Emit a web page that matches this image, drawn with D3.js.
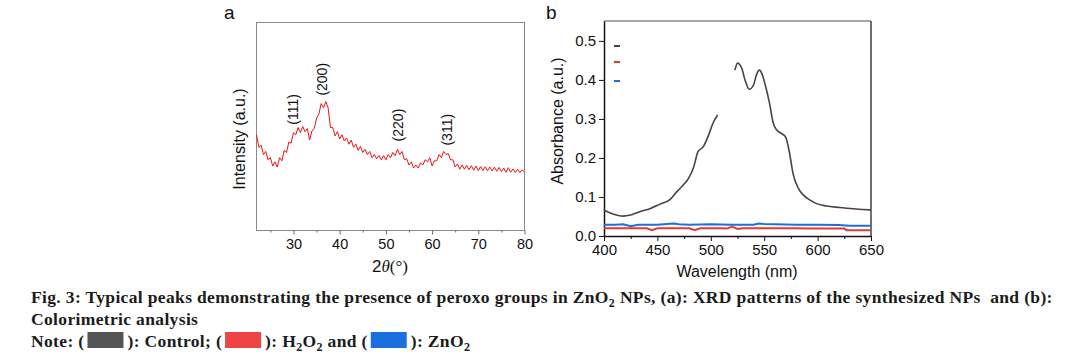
<!DOCTYPE html>
<html>
<head>
<meta charset="utf-8">
<script src="https://cdn.jsdelivr.net/npm/d3@7"></script>
<style>
  body { margin: 0; background: #fff; }
  svg { display: block; }
</style>
</head>
<body>
<svg id="fig" width="1087" height="362"></svg>
<script>
// --- panel a: XRD pattern (arbitrary intensity units)
var xrdAngle = [22,22.5,23,23.5,24,24.5,25,25.5,26,26.5,27,27.5,28,28.5,29,29.5,30,30.5,31,31.5,
  32,32.5,33,33.5,34,34.5,35,35.5,36,36.5,37,37.5,38,38.5,39,39.5,40,40.5,41,41.5,
  42,42.5,43,43.5,44,44.5,45,45.5,46,46.5,47,47.5,48,48.5,49,49.5,50,50.5,51,51.5,
  52,52.5,53,53.5,54,54.5,55,55.5,56,56.5,57,57.5,58,58.5,59,59.5,60,60.5,61,61.5,
  62,62.5,63,63.5,64,64.5,65,65.5,66,66.5,67,67.5,68,68.5,69,69.5,70,70.5,71,71.5,
  72,72.5,73,73.5,74,74.5,75,75.5,76,76.5,77,77.5,78,78.5,79,79.5,80];
var xrdIntensity = [46,40,41,36.5,38,34,35,31,33,30.5,35,33.5,38.5,37.5,42.5,42,47,46,49.5,47,
  50,47.5,49,43.5,48,49,54,56,61,59,62,59,49.5,49.5,45.5,47.5,44,46,43,44.5,
  41.5,43.5,40,41.5,38.5,40.5,37.5,39,36.5,38,35,36.5,34.5,36,34,36,34,36.5,35,37.5,
  36,39,36.5,38,34,34.5,31.5,33,30,31.5,30,32.5,31.5,34,33,35,31,33.5,33.5,36.5,
  35,38,36.5,37,34,34,30.5,32,29.5,31.5,29.5,31.3,29.2,31.2,29,31,28.8,30.7,28.8,30.6,
  28.7,30.5,28.6,30.4,28.5,30.3,28.3,30,28,30.2,28,29.6,27.9,29.4,27.8,29.2,28];
var xrdTicks = [30, 40, 50, 60, 70, 80];
var peakHkl = ['(111)', '(200)', '(220)', '(311)'];
var peakAngle = [30.0, 36.1, 52.7, 63.3];

// --- panel b: colorimetric spectra
var controlWl  = [400,409,418,424,434,443,452,462,468,474,479,484,488,493,498,502,506.4,514,
  522.6,525,529,532,536,540,543,545.5,548,551,555,558.5,562,566,570,573.5,577,582,587,593,599,608,621,636,650];
var controlAbs = [0.066,0.056,0.051,0.053,0.063,0.070,0.081,0.094,0.113,0.130,0.147,0.177,0.216,0.229,0.259,0.289,0.310,null,
  0.425,0.443,0.430,0.400,0.376,0.387,0.415,0.425,0.415,0.387,0.340,0.289,0.271,0.263,0.254,0.216,0.160,0.122,0.104,0.092,0.083,0.077,0.073,0.069,0.067];
var h2o2Wl  = [400,440,445,450,480,485,490,510,515,520,525,530,580,590,600,625,627,650];
var h2o2Abs = [0.020,0.020,0.015,0.020,0.020,0.015,0.020,0.020,0.019,0.024,0.018,0.020,0.020,0.019,0.019,0.019,0.015,0.015];
var zno2Wl  = [400,410,418,425,432,450,465,470,480,500,520,540,545,550,560,580,600,620,630,650];
var zno2Abs = [0.029,0.029,0.030,0.025,0.029,0.029,0.032,0.030,0.029,0.030,0.029,0.029,0.032,0.031,0.030,0.029,0.029,0.028,0.026,0.026];
var uvXTicks = [400, 450, 500, 550, 600, 650];
var uvYTicks = [0, 0.1, 0.2, 0.3, 0.4, 0.5];
var seriesNames  = ['Control', 'H2O2', 'ZnO2'];
var seriesColors = ['#444444', '#e53935', '#1e6fdc'];
var swatchColors = ['#555555', '#ef4444', '#1a6fdf'];

var svg = d3.select('#fig');
var sans = 'Liberation Sans, Arial, sans-serif';

// ================= panel a =================
var xA = d3.scaleLinear().domain([22, 80]).range([256.5, 524.5]);
var yA = d3.scaleLinear().domain([0, 100]).range([230.5, 22.5]);
var gA = svg.append('g');

gA.append('rect')
  .attr('x', xA(22)).attr('y', yA(100))
  .attr('width', xA(80) - xA(22)).attr('height', yA(0) - yA(100))
  .attr('fill', 'none').attr('stroke', '#8a8a8a').attr('stroke-width', 1);

var axA = gA.append('g').attr('transform', 'translate(0,' + yA(0) + ')')
  .call(d3.axisBottom(xA).tickValues(xrdTicks).tickSize(4).tickPadding(4).tickFormat(d3.format('d')));
axA.select('.domain').remove();
axA.selectAll('line').attr('stroke', '#666');
axA.selectAll('text').attr('font-family', sans).attr('font-size', 14.5).attr('fill', '#111');
gA.append('g').attr('transform', 'translate(0,' + yA(0) + ')')
  .call(d3.axisBottom(xA).tickValues([25, 35, 45, 55, 65, 75]).tickSize(2).tickFormat(''))
  .call(function(g){ g.select('.domain').remove(); g.selectAll('line').attr('stroke', '#666'); });

var xrdPts = xrdAngle.map(function(a, i){ return [a, xrdIntensity[i]]; });
gA.append('path')
  .datum(xrdPts)
  .attr('fill', 'none')
  .attr('stroke', '#f01010')
  .attr('stroke-width', 1)
  .attr('d', d3.line().x(function(d){ return xA(d[0]); }).y(function(d){ return yA(d[1]); }));

peakHkl.forEach(function(lbl, i){
  var near = xrdPts.filter(function(p){ return Math.abs(p[0] - peakAngle[i]) <= 0.6; });
  var top = d3.max(near, function(p){ return p[1]; });
  var px = xA(peakAngle[i]), py = yA(top) - 8;
  gA.append('text')
    .attr('transform', 'translate(' + (px + 5) + ',' + py + ') rotate(-90)')
    .attr('font-family', sans).attr('font-size', 14).attr('fill', '#111')
    .text(lbl);
});

gA.append('text')
  .attr('transform', 'translate(245,139) rotate(-90)')
  .attr('text-anchor', 'middle')
  .attr('font-family', sans).attr('font-size', 16).attr('fill', '#111')
  .text('Intensity (a.u.)');

var xtA = gA.append('text')
  .attr('x', 390).attr('y', 272)
  .attr('text-anchor', 'middle')
  .attr('font-size', 17).attr('fill', '#111');
xtA.append('tspan').attr('font-family', sans).text('2');
xtA.append('tspan').attr('font-family', 'Liberation Serif, Times New Roman, serif').attr('font-style', 'italic').text('θ');
xtA.append('tspan').attr('font-family', 'Liberation Serif, Times New Roman, serif').text('(°)');

svg.append('text').attr('x', 224).attr('y', 19)
  .attr('font-family', sans).attr('font-size', 19).attr('fill', '#111').text('a');

// ================= panel b =================
var xB = d3.scaleLinear().domain([400, 650]).range([604, 871]);
var yB = d3.scaleLinear().domain([0, 0.551]).range([236, 21]);
var gB = svg.append('g');

gB.append('line').attr('x1', xB(400)).attr('x2', xB(650)).attr('y1', yB(0.551)).attr('y2', yB(0.551))
  .attr('stroke', '#8a8a8a').attr('stroke-width', 1.6);
gB.append('line').attr('x1', xB(650)).attr('x2', xB(650)).attr('y1', yB(0.551)).attr('y2', yB(0))
  .attr('stroke', '#111').attr('stroke-width', 1.2);

var axBx = gB.append('g').attr('transform', 'translate(0,' + yB(0) + ')')
  .call(d3.axisBottom(xB).tickValues(uvXTicks).tickSize(5).tickSizeOuter(0).tickPadding(3).tickFormat(d3.format('d')));
gB.append('g').attr('transform', 'translate(0,' + yB(0) + ')')
  .call(d3.axisBottom(xB).tickValues([425, 475, 525, 575, 625]).tickSize(3).tickFormat(''))
  .call(function(g){ g.select('.domain').remove(); });
var axBy = gB.append('g').attr('transform', 'translate(' + xB(400) + ',0)')
  .call(d3.axisLeft(yB).tickValues(uvYTicks).tickSize(5).tickSizeOuter(0).tickPadding(3).tickFormat(d3.format('.1f')));
[axBx, axBy].forEach(function(ax){
  ax.select('.domain').attr('stroke', '#111').attr('stroke-width', 1.5);
  ax.selectAll('text').attr('font-family', sans).attr('font-size', 15).attr('fill', '#111');
});
gB.selectAll('.tick line').attr('stroke', '#111');

var lineB = d3.line()
  .defined(function(d){ return d[1] !== null; })
  .curve(d3.curveMonotoneX)
  .x(function(d){ return xB(d[0]); })
  .y(function(d){ return yB(d[1]); });
var seriesData = [
  controlWl.map(function(w, i){ return [w, controlAbs[i]]; }),
  h2o2Wl.map(function(w, i){ return [w, h2o2Abs[i]]; }),
  zno2Wl.map(function(w, i){ return [w, zno2Abs[i]]; })
];
gB.selectAll('.uv-line')
  .data(seriesData)
  .enter().append('path')
  .attr('class', 'uv-line')
  .attr('fill', 'none')
  .attr('stroke', function(d, i){ return seriesColors[i]; })
  .attr('stroke-width', function(d, i){ return i === 0 ? 1.6 : 2; })
  .attr('d', function(d, i){ return i === 0 ? lineB(d) : lineB.curve(d3.curveLinear)(d); });

// legend: only the short line keys are visible in the source
gB.selectAll('.key')
  .data(seriesNames)
  .enter().append('line')
  .attr('class', 'key')
  .attr('x1', 614).attr('x2', 620)
  .attr('y1', function(d, i){ return [46, 62, 81][i]; })
  .attr('y2', function(d, i){ return [46, 62, 81][i]; })
  .attr('stroke', function(d, i){ return seriesColors[i]; })
  .attr('stroke-width', 2);

gB.append('text')
  .attr('transform', 'translate(563,121) rotate(-90)')
  .attr('text-anchor', 'middle')
  .attr('font-family', sans).attr('font-size', 16).attr('fill', '#111')
  .text('Absorbance (a.u.)');
gB.append('text')
  .attr('x', 737).attr('y', 277)
  .attr('text-anchor', 'middle')
  .attr('font-family', sans).attr('font-size', 16).attr('fill', '#111')
  .text('Wavelength (nm)');
svg.append('text').attr('x', 546).attr('y', 19)
  .attr('font-family', sans).attr('font-size', 19).attr('fill', '#111').text('b');

// ================= caption =================
var serif = 'Liberation Serif, Times New Roman, serif';
var cap = svg.append('g').attr('font-family', serif).attr('font-weight', 'bold')
  .attr('font-size', 17.5).attr('letter-spacing', 0.35).attr('fill', '#1b1b1b');

// runs of plain text and subscripts; the run after a subscript moves back up
function addRuns(textSel, runs){
  var shift = 0;
  runs.forEach(function(r){
    if (r.sub) {
      textSel.append('tspan').attr('font-size', 12).attr('dy', 4 - shift).text(r.sub);
      shift = 4;
    } else {
      textSel.append('tspan').attr('dy', -shift).text(r.t);
      shift = 0;
    }
  });
}

var l1 = cap.append('text').attr('x', 31).attr('y', 303);
addRuns(l1, [{t: 'Fig. 3: Typical peaks demonstrating the presence of peroxo groups in ZnO'}, {sub: '2'},
  {t: ' NPs, (a): XRD patterns of the synthesized NPs \u00A0and (b):'}]);
cap.append('text').attr('x', 31).attr('y', 325).text('Colorimetric analysis');

// note line: text pieces with colour swatches in between
var notePieces = [
  [{t: 'Note: ('}],
  [{t: '): Control; ('}],
  [{t: '): H'}, {sub: '2'}, {t: 'O'}, {sub: '2'}, {t: ' and ('}],
  [{t: '): ZnO'}, {sub: '2'}]
];
var cx = 31;
notePieces.forEach(function(runs, i){
  var t = cap.append('text').attr('x', cx).attr('y', 347);
  addRuns(t, runs);
  cx += t.node().getComputedTextLength();
  if (i < swatchColors.length) {
    cap.append('rect').attr('x', cx + 3).attr('y', 332).attr('width', 36).attr('height', 16)
      .attr('fill', swatchColors[i]);
    cx += 3 + 36 + 4;
  }
});
</script>
</body>
</html>
